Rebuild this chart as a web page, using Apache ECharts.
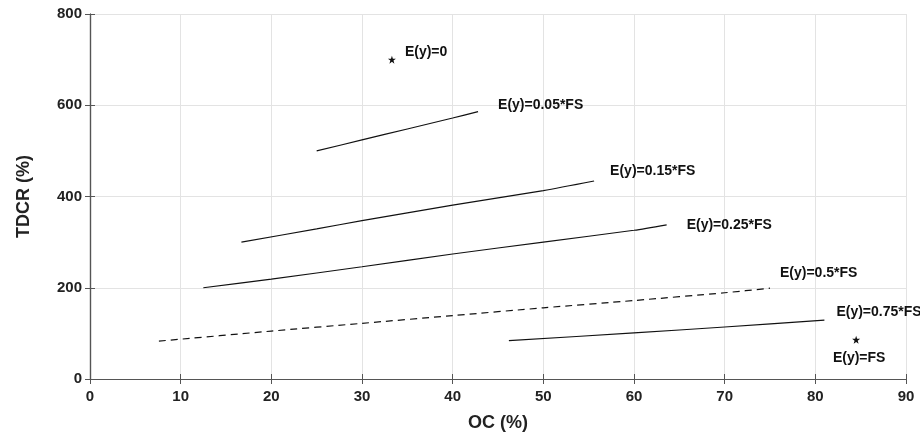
<!DOCTYPE html>
<html>
<head>
<meta charset="utf-8">
<script src="https://cdn.jsdelivr.net/npm/echarts@6/dist/echarts.min.js"></script>
<style>
  html, body { margin: 0; padding: 0; background: #fff; }
  #chart { width: 920px; height: 437px; }
</style>
</head>
<body>
<div id="chart"></div>
<script>
// curves: [OC %, TDCR %]
const fs005 = [[25, 500], [30, 524], [35, 548], [40, 572], [42.8, 586]];
const fs015 = [[16.7, 300], [25, 329], [30, 347], [40, 381], [50, 413], [55.6, 434]];
const fs025 = [[12.5, 200], [20, 219], [30, 246], [40, 274], [50, 300], [60, 326], [63.6, 338]];
const fs050 = [[7.6, 83], [20, 105], [30, 122], [40, 139], [50, 156], [60, 172], [70, 189], [75, 199]];
const fs075 = [[46.2, 84], [60, 101], [70, 114], [81, 129]];
const pointZero = [[33.3, 700]];
const pointFS = [[84.5, 86]];

const xTicks = { min: 0, max: 90, interval: 10 };
const yTicks = { min: 0, max: 800, interval: 200 };

const FONT = 'Liberation Sans, Arial, sans-serif';
const starPath = 'path://M0,-10L2.3,-3.2L9.5,-3.1L3.7,1.2L5.9,8.1L0,4L-5.9,8.1L-3.7,1.2L-9.5,-3.1L-2.3,-3.2Z';

function curve(name, data, dashed, offset) {
  return {
    name: name,
    type: 'line',
    data: data,
    symbol: 'none',
    smooth: 0.25,
    silent: true,
    lineStyle: { color: '#111', width: 1.2, type: dashed ? [7, 5] : 'solid' },
    endLabel: {
      show: true,
      formatter: name,
      offset: offset,
      color: '#111',
      fontFamily: FONT,
      fontWeight: 'bold',
      fontSize: 14
    },
    animation: false
  };
}

function star(name, data, position, offset) {
  return {
    name: name,
    type: 'scatter',
    data: data,
    symbol: starPath,
    symbolSize: 8,
    itemStyle: { color: '#111', opacity: 1 },
    label: {
      show: true,
      formatter: name,
      position: position,
      offset: offset,
      color: '#111',
      fontFamily: FONT,
      fontWeight: 'bold',
      fontSize: 14
    },
    animation: false
  };
}

const axisLine = { show: true, lineStyle: { color: '#555', width: 1.2 } };
const tickLbl = { color: '#222', fontFamily: FONT, fontWeight: 'bold', fontSize: 15 };
const nameStyle = { color: '#222', fontFamily: FONT, fontWeight: 'bold', fontSize: 18 };

const option = {
  backgroundColor: '#fff',
  grid: { left: 90, right: 14, top: 14, bottom: 58, outerBoundsMode: 'none', containLabel: false },
  xAxis: [{
    type: 'value', ...xTicks,
    name: 'OC (%)', nameLocation: 'middle', nameGap: 35,
    nameTextStyle: nameStyle,
    axisLine: axisLine,
    axisTick: { show: true, inside: true, length: 5, lineStyle: { color: '#555' } },
    axisLabel: { ...tickLbl, margin: 10 },
    splitLine: { show: true, lineStyle: { color: '#e3e3e3', width: 1 } }
  }, {
    type: 'value', ...xTicks, position: 'top',
    axisLine: axisLine,
    axisTick: { show: true, inside: true, length: 5, lineStyle: { color: '#555' } },
    axisLabel: { show: false },
    splitLine: { show: false }
  }],
  yAxis: [{
    type: 'value', ...yTicks,
    name: 'TDCR (%)', nameLocation: 'middle', nameGap: 57,
    nameTextStyle: nameStyle,
    axisLine: axisLine,
    axisTick: { show: true, inside: true, length: 5, lineStyle: { color: '#555' } },
    axisLabel: { ...tickLbl, margin: 8 },
    splitLine: { show: true, lineStyle: { color: '#e3e3e3', width: 1 } }
  }, {
    type: 'value', ...yTicks, position: 'right',
    axisLine: axisLine,
    axisTick: { show: true, inside: true, length: 5, lineStyle: { color: '#555' } },
    axisLabel: { show: false },
    splitLine: { show: false }
  }],
  series: [
    star('E(y)=0', pointZero, 'right', [4, -7]),
    curve('E(y)=0.05*FS', fs005, false, [12, -6]),
    curve('E(y)=0.15*FS', fs015, false, [8, -10]),
    curve('E(y)=0.25*FS', fs025, false, [12, 0]),
    curve('E(y)=0.5*FS', fs050, true, [2, -15]),
    curve('E(y)=0.75*FS', fs075, false, [4, -8]),
    star('E(y)=FS', pointFS, 'bottom', [3, 2])
  ]
};

const chart = echarts.init(document.getElementById('chart'), null, { renderer: 'canvas' });
chart.setOption(option);
</script>
</body>
</html>
